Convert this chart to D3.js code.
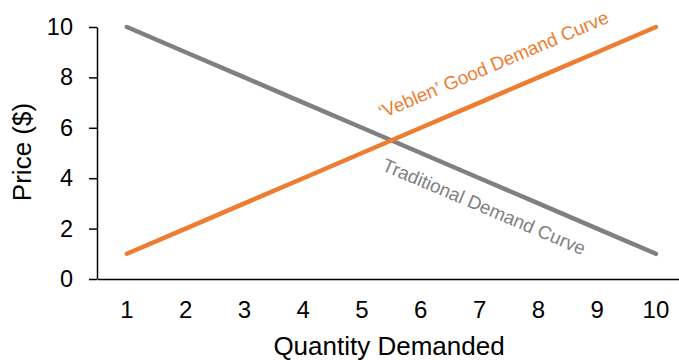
<!DOCTYPE html>
<html>
<head>
<meta charset="utf-8">
<script src="https://cdn.jsdelivr.net/npm/d3@7/dist/d3.min.js"></script>
<style>
  html, body { margin: 0; padding: 0; background: #fff; }
  svg { display: block; font-family: "Liberation Sans", Arial, sans-serif; }
</style>
</head>
<body>
<svg id="chart" width="679" height="360"></svg>
<script>
// Demand schedules: price at each quantity demanded
const quantities = [1, 2, 3, 4, 5, 6, 7, 8, 9, 10];
const traditionalPrice = [10, 9, 8, 7, 6, 5, 4, 3, 2, 1];
const veblenPrice = [1, 2, 3, 4, 5, 6, 7, 8, 9, 10];
const priceTicks = [0, 2, 4, 6, 8, 10];

const svg = d3.select("#chart");

const x = d3.scaleBand().domain(quantities).range([97.5, 685.3]).padding(0);
const y = d3.scaleLinear().domain([0, 10]).range([279, 27]);
const cx = q => x(q) + x.bandwidth() / 2;

// Y axis
const yAxis = svg.append("g")
  .attr("transform", "translate(97,0)")
  .call(d3.axisLeft(y).tickValues(priceTicks).tickSize(8).tickPadding(16).tickSizeOuter(0));
yAxis.select(".domain").attr("stroke", "#000").attr("stroke-width", 1.5);
yAxis.selectAll(".tick line").attr("stroke", "#000").attr("stroke-width", 1.5);
yAxis.selectAll(".tick text").attr("font-size", 23.5).attr("fill", "#000")
  .attr("font-family", "'Liberation Sans', Arial, sans-serif");

// X axis (category labels, no tick marks)
const xAxis = svg.append("g")
  .attr("transform", "translate(0,279)")
  .call(d3.axisBottom(x).tickSize(0).tickPadding(22).tickSizeOuter(0));
xAxis.select(".domain").attr("stroke", "#000").attr("stroke-width", 1.5);
xAxis.selectAll(".tick text").attr("font-size", 24).attr("fill", "#000")
  .attr("font-family", "'Liberation Sans', Arial, sans-serif");

// Axis titles
svg.append("text")
  .attr("x", 389).attr("y", 355)
  .attr("text-anchor", "middle")
  .attr("font-size", 26).attr("fill", "#000")
  .text("Quantity Demanded");

svg.append("text")
  .attr("transform", "translate(31,152) rotate(-90)")
  .attr("text-anchor", "middle")
  .attr("font-size", 26).attr("fill", "#000")
  .text("Price ($)");

// Demand curves
const line = d3.line().x(d => cx(d.q)).y(d => y(d.p));
const toPts = prices => quantities.map((q, i) => ({ q, p: prices[i] }));

svg.append("path")
  .datum(toPts(traditionalPrice))
  .attr("d", line)
  .attr("fill", "none")
  .attr("stroke", "#808080")
  .attr("stroke-width", 4.5)
  .attr("stroke-linecap", "round");

svg.append("path")
  .datum(toPts(veblenPrice))
  .attr("d", line)
  .attr("fill", "none")
  .attr("stroke", "#ED7D31")
  .attr("stroke-width", 4.5)
  .attr("stroke-linecap", "round");

// Curve labels
svg.append("text")
  .attr("transform", "translate(382,119) rotate(-23)")
  .attr("font-size", 18.8).attr("fill", "#ED7D31")
  .text("\u2018Veblen\u2019 Good Demand Curve");

svg.append("text")
  .attr("transform", "translate(381,170) rotate(23)")
  .attr("font-size", 18.8).attr("fill", "#808080")
  .text("Traditional Demand Curve");
</script>
</body>
</html>
